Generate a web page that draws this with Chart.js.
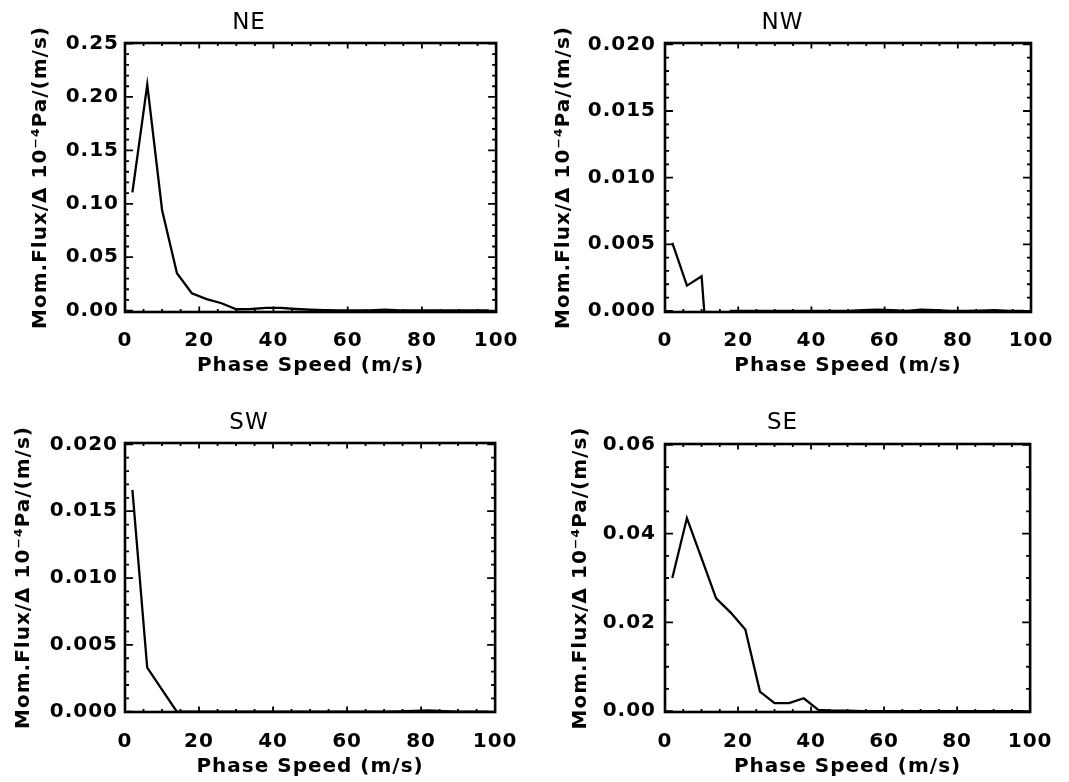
<!DOCTYPE html>
<html><head><meta charset="utf-8">
<script src="https://cdn.jsdelivr.net/npm/chart.js@4/dist/chart.umd.min.js"></script>
<style>
html,body{margin:0;padding:0;background:#fff;}
#wrap{position:relative;width:1069px;height:782px;background:#fff;overflow:hidden;}
.p{position:absolute;}
canvas{display:block;}
</style></head><body><div id="wrap">
<div class="p" style="left:0;top:0;"><canvas id="cNE" width="534" height="390"></canvas></div>
<div class="p" style="left:534px;top:0;"><canvas id="cNW" width="535" height="390"></canvas></div>
<div class="p" style="left:0;top:390px;"><canvas id="cSW" width="534" height="392"></canvas></div>
<div class="p" style="left:534px;top:390px;"><canvas id="cSE" width="535" height="392"></canvas></div>
</div>
<script>
// ---- data ----
const phaseSpeed = [2,6,10,14,18,22,26,30,34,38,42,46,50,54,58,62,66,70,74,78,82,86,90,94,98];
const fluxNE = [0.1106,0.2116,0.094,0.035,0.0163,0.0107,0.0069,0.0013,0.0015,0.0025,0.0025,0.0015,0.0008,0.0004,0.0002,0.0001,0.0002,0.0008,0.0003,0.0001,0.0001,0.0001,0.0001,0.0001,0.0001];
const fluxNW = [0.0051,0.0019,0.0026,-0.012,0,0,0,0,0,0,0,0,0,0.00005,0.0001,0.00005,0,0.0001,0.00005,0,0,0.00003,0.00005,0,0];
const fluxSW = [0.0166,0.0033,0.00165,0,0,0,0,0,0,0,0,0,0,0,0,0,0,0,0.00003,0.00006,0.0001,0.00005,0,0,0];
const fluxSE = [0.030,0.0435,0.0345,0.0254,0.0222,0.0184,0.0044,0.0018,0.0018,0.0029,0.0003,0.0001,0.0001,0,0,0,0,0,0,0,0,0,0,0,0];

const xTickVals = [0,20,40,60,80,100];
const xTickLabels = ['0','20','40','60','80','100'];
const yTickValsNE = [0,0.05,0.10,0.15,0.20,0.25];
const yTickLabelsNE = ['0.00','0.05','0.10','0.15','0.20','0.25'];
const yTickValsSmall = [0,0.005,0.010,0.015,0.020];
const yTickLabelsSmall = ['0.000','0.005','0.010','0.015','0.020'];
const yTickValsSE = [0,0.02,0.04,0.06];
const yTickLabelsSE = ['0.00','0.02','0.04','0.06'];

const xTitle = 'Phase Speed (m/s)';
const yTitle = 'Mom.Flux/\u0394 10\u207B\u2074Pa/(m/s)';

Chart.defaults.font.family = "'DejaVu Sans', sans-serif";
Chart.defaults.color = '#000';

const spacing = { id:'spacing', beforeDraw(chart){ chart.ctx.letterSpacing = '1px'; } };

const boxTicks = {
  id:'boxTicks',
  afterDatasetsDraw(chart, args, o){
    const {ctx, chartArea:a, scales:{x,y}} = chart;
    ctx.save();
    ctx.strokeStyle = '#000';
    ctx.lineCap = 'butt';
    ctx.lineWidth = 1.8;
    ctx.beginPath();
    const nx = Math.round((x.max - x.min)/o.xMinor);
    for (let i=0;i<=nx;i++){
      const v = x.min + i*o.xMinor;
      const px = x.getPixelForValue(v);
      const major = (i % o.xPer) === 0;
      const L = major ? 5.5 : 3;
      ctx.moveTo(px, a.bottom); ctx.lineTo(px, a.bottom - L);
      ctx.moveTo(px, a.top); ctx.lineTo(px, a.top + L);
    }
    const ny = Math.floor((y.max - 0)/o.yMinor + 1e-6);
    for (let i=0;i<=ny;i++){
      const v = i*o.yMinor;
      const py = y.getPixelForValue(v);
      const major = (i % o.yPer) === 0;
      const L = major ? 8 : 4;
      ctx.moveTo(a.left, py); ctx.lineTo(a.left + L, py);
      ctx.moveTo(a.right, py); ctx.lineTo(a.right - L, py);
    }
    ctx.stroke();
    ctx.lineWidth = 2.6;
    ctx.strokeRect(a.left, a.top, a.right - a.left, a.bottom - a.top);
    ctx.restore();
  }
};

function makePanel(id, cfg){
  const data = phaseSpeed.map((s,i)=>({x:s, y:cfg.values[i]}));
  const f = {size:20, weight:'bold'};
  new Chart(document.getElementById(id), {
    type:'line',
    data:{ datasets:[{ data, borderColor:'#000', borderWidth:2.3, pointRadius:0, tension:0, fill:false }] },
    plugins:[spacing, boxTicks],
    options:{
      responsive:false, animation:false, devicePixelRatio:1,
      layout:{ padding:{ left:0, top:0, right:cfg.padRight, bottom:0 } },
      plugins:{
        legend:{display:false}, tooltip:{enabled:false},
        title:{ display:true, text:cfg.title, color:'#000', font:{size:23, weight:'normal'},
                padding:{top:cfg.titleTop, bottom:cfg.titleHeight - cfg.titleTop - 27.6} },
        boxTicks:{ xMinor:5, xPer:4, yMinor:cfg.yMinor, yPer:cfg.yPer }
      },
      scales:{
        x:{ type:'linear', position:'bottom', min:0, max:100,
            afterBuildTicks:s=>{ s.ticks = xTickVals.map(v=>({value:v})); },
            afterFit:s=>{ s.height = cfg.xHeight; },
            grid:{display:false, drawTicks:false}, border:{display:false},
            ticks:{ autoSkip:false, maxRotation:0, padding:cfg.xTickPad, font:f, color:'#000',
                    callback:(v,i)=>xTickLabels[i] },
            title:{ display:true, text:xTitle, color:'#000', font:f, padding:{top:0, bottom:cfg.xTitlePad} } },
        y:{ type:'linear', position:'left', min:cfg.yMin, max:cfg.yMax,
            afterBuildTicks:s=>{ s.ticks = cfg.yVals.map(v=>({value:v})); },
            afterFit:s=>{ s.width = cfg.yWidth; },
            grid:{display:false, drawTicks:false}, border:{display:false},
            ticks:{ autoSkip:false, padding:cfg.yTickPad, font:f, color:'#000',
                    callback:(v,i)=>cfg.yLabels[i] },
            title:{ display:true, text:yTitle, color:'#000', font:{size:20, weight:'bold'}, padding:{top:cfg.yTitlePad, bottom:0} } }
      }
    }
  });
}

makePanel('cNE', { title:'NE', values:fluxNE, yVals:yTickValsNE, yLabels:yTickLabelsNE,
  yMin:-0.0013, yMax:0.2505, yMinor:0.01, yPer:5,
  padRight:36, titleTop:9.7, titleHeight:43, xHeight:78, yWidth:125,
  xTickPad:17, xTitlePad:12, yTickPad:6, yTitlePad:29 });
makePanel('cNW', { title:'NW', values:fluxNW, yVals:yTickValsSmall, yLabels:yTickLabelsSmall,
  yMin:-0.00008, yMax:0.0201, yMinor:0.001, yPer:5,
  padRight:38, titleTop:9.7, titleHeight:43, xHeight:78, yWidth:131,
  xTickPad:17, xTitlePad:12, yTickPad:9, yTitlePad:18 });
makePanel('cSW', { title:'SW', values:fluxSW, yVals:yTickValsSmall, yLabels:yTickLabelsSmall,
  yMin:-0.00002, yMax:0.0201, yMinor:0.001, yPer:5,
  padRight:36, titleTop:19.7, titleHeight:53, xHeight:70, yWidth:125,
  xTickPad:18, xTitlePad:3, yTickPad:7, yTitlePad:12 });
makePanel('cSE', { title:'SE', values:fluxSE, yVals:yTickValsSE, yLabels:yTickLabelsSE,
  yMin:-0.0002, yMax:0.0602, yMinor:0.005, yPer:4,
  padRight:38, titleTop:19.7, titleHeight:54, xHeight:70, yWidth:131,
  xTickPad:18, xTitlePad:3, yTickPad:9, yTitlePad:35 });
</script>
</body></html>
